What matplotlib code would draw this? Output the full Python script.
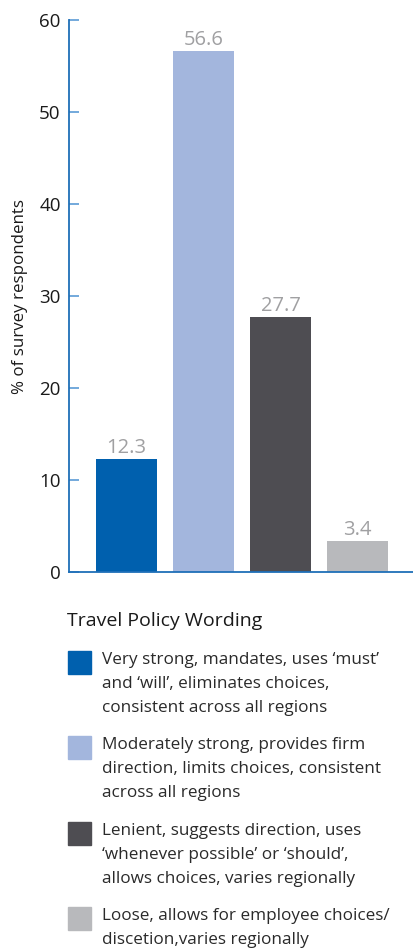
import matplotlib
matplotlib.use('Agg')
import matplotlib.pyplot as plt
import matplotlib.patches as mpatches

plt.rcParams['font.family'] = ['Open Sans', 'DejaVu Sans']

# dados
valores = [12.3, 56.6, 27.7, 3.4]
rotulos = ['12.3', '56.6', '27.7', '3.4']
cores = ['#0060ae', '#a3b6dd', '#4e4d52', '#b8b9bc']
legenda = [
    'Very strong, mandates, uses \u2018must\u2019\nand \u2018will\u2019, eliminates choices,\nconsistent across all regions',
    'Moderately strong, provides firm\ndirection, limits choices, consistent\nacross all regions',
    'Lenient, suggests direction, uses\n\u2018whenever possible\u2019 or \u2018should\u2019,\nallows choices, varies regionally',
    'Loose, allows for employee choices/\ndiscetion,varies regionally',
]
titulo_legenda = 'Travel Policy Wording'
yticks = [0, 10, 20, 30, 40, 50, 60]

W, H = 414, 951
fig = plt.figure(figsize=(W/100, H/100), dpi=100)
ax = fig.add_axes([69/W, 379/H, (W-69)/W, 552/H])

x = range(len(valores))
ax.bar(x, valores, width=0.792, color=cores)
for i, v in enumerate(valores):
    ax.text(i, v + 0.1, rotulos[i], ha='center', va='bottom', fontsize=14.5, color='#a0a0a2')

ax.set_xlim(-0.747, 3.734)
ax.set_ylim(0, 60)
ax.set_yticks(yticks)
ax.set_xticks([])
ax.tick_params(axis='y', direction='in', length=7, width=1.2, color='#5b9bd5',
               labelsize=13.5, labelcolor='#1a1a1a', pad=6)
for s in ['top', 'right']:
    ax.spines[s].set_visible(False)
ax.spines['left'].set_color('#1f6fb8')
ax.spines['bottom'].set_color('#1f6fb8')
ax.spines['left'].set_linewidth(1.3)
ax.spines['bottom'].set_linewidth(1.3)
ax.set_ylabel('% of survey respondents', fontsize=12.2, color='#1a1a1a', labelpad=8)

# legenda manual
fig.text(67/W, 1 - 621/H, titulo_legenda, fontsize=14, color='#1a1a1a', va='center', ha='left')
topos = [651, 736, 822, 907]
for i in range(len(legenda)):
    r = mpatches.Rectangle((68/W, 1 - (topos[i] + 23)/H), 23/W, 23/H,
                           transform=fig.transFigure, color=cores[i])
    fig.patches.append(r)
    fig.text(102/W, 1 - (topos[i] + 1)/H, legenda[i], fontsize=12.3, color='#2a2a2a',
             va='top', ha='left', linespacing=1.68)

fig.savefig('out.png', dpi=100)
